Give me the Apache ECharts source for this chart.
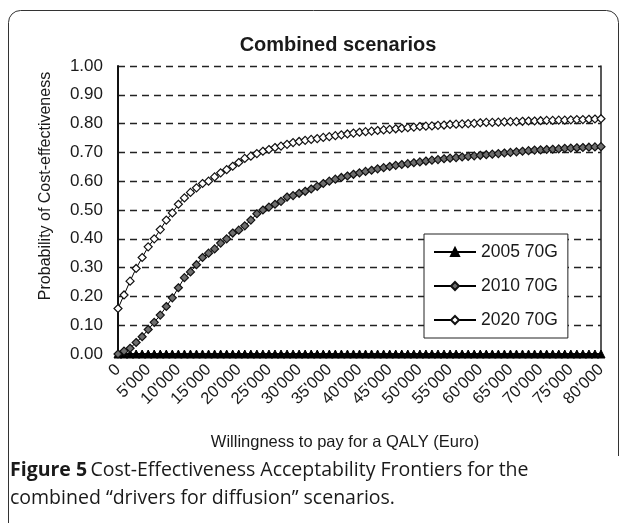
<!DOCTYPE html>
<html>
<head>
<meta charset="utf-8">
<script src="https://cdn.jsdelivr.net/npm/echarts@6/dist/echarts.min.js"></script>
<style>
html,body{margin:0;padding:0;background:#fff;}
#c{width:627px;height:523px;}
</style>
</head>
<body>
<div id="c"></div>
<script>
// Willingness to pay (Euro)
var wtp = [0,1000,2000,3000,4000,5000,6000,7000,8000,9000,
  10000,11000,12000,13000,14000,15000,16000,17000,18000,19000,
  20000,21000,22000,23000,24000,25000,26000,27000,28000,29000,
  30000,31000,32000,33000,34000,35000,36000,37000,38000,39000,
  40000,41000,42000,43000,44000,45000,46000,47000,48000,49000,
  50000,51000,52000,53000,54000,55000,56000,57000,58000,59000,
  60000,61000,62000,63000,64000,65000,66000,67000,68000,69000,
  70000,71000,72000,73000,74000,75000,76000,77000,78000,79000,80000];

var s2005 = [0,0,0,0,0,0,0,0,0,0, 0,0,0,0,0,0,0,0,0,0, 0,0,0,0,0,0,0,0,0,0,
  0,0,0,0,0,0,0,0,0,0, 0,0,0,0,0,0,0,0,0,0, 0,0,0,0,0,0,0,0,0,0,
  0,0,0,0,0,0,0,0,0,0, 0,0,0,0,0,0,0,0,0,0,0];

var s2010 = [0.00,0.01,0.02,0.04,0.06,0.085,0.11,0.135,0.165,0.195,
  0.23,0.265,0.285,0.31,0.335,0.35,0.365,0.385,0.40,0.42,
  0.43,0.445,0.465,0.487,0.50,0.51,0.52,0.53,0.545,0.55,
  0.558,0.565,0.573,0.582,0.592,0.60,0.607,0.613,0.618,0.624,
  0.629,0.634,0.638,0.643,0.647,0.651,0.655,0.658,0.661,0.664,
  0.667,0.670,0.673,0.675,0.678,0.680,0.682,0.684,0.686,0.688,
  0.690,0.692,0.694,0.696,0.698,0.700,0.702,0.704,0.706,0.708,
  0.709,0.710,0.711,0.712,0.714,0.715,0.716,0.717,0.718,0.719,0.720];

var s2020 = [0.158,0.205,0.253,0.297,0.335,0.372,0.40,0.432,0.465,0.49,
  0.52,0.542,0.561,0.577,0.592,0.60,0.615,0.629,0.64,0.652,
  0.665,0.679,0.687,0.696,0.704,0.71,0.717,0.722,0.728,0.734,
  0.738,0.742,0.745,0.748,0.752,0.755,0.758,0.761,0.764,0.767,
  0.770,0.772,0.774,0.776,0.778,0.780,0.782,0.784,0.786,0.788,
  0.790,0.791,0.792,0.794,0.795,0.797,0.798,0.799,0.800,0.801,
  0.803,0.804,0.804,0.805,0.806,0.807,0.807,0.808,0.809,0.809,
  0.810,0.811,0.811,0.812,0.812,0.813,0.814,0.814,0.815,0.816,0.817];

var seriesNames = ['2005 70G','2010 70G','2020 70G'];

function pairs(vals){ return vals.map(function(v,i){ return [wtp[i], v]; }); }

var FONT = '"Liberation Sans", Arial, sans-serif';
var CAP = '"Open Sans", "Noto Sans", sans-serif';
var chart = echarts.init(document.getElementById('c'), null, {renderer:'canvas'});
chart.setOption({
  backgroundColor:'#fff',
  animation:false,
  graphic:[
    {type:'rect', z:-10, shape:{x:8.5, y:10.5, width:610, height:560, r:12},
     style:{fill:'none', stroke:'#333', lineWidth:1}},
    {type:'rect', z:-9, shape:{x:612, y:456, width:15, height:70},
     style:{fill:'#fff', stroke:null}},
    {type:'text', x:338, y:45,
     style:{text:'Combined scenarios', font:'bold 20px "Liberation Sans", Arial', fill:'#1a1a1a', align:'center', verticalAlign:'middle'}},
    {type:'text', x:46, y:186, rotation:Math.PI/2,
     style:{text:'Probability of Cost-effectiveness', font:'16px "Liberation Sans", Arial', fill:'#1a1a1a', align:'center', verticalAlign:'middle'}},
    {type:'text', x:345, y:442,
     style:{text:'Willingness to pay for a QALY (Euro)', font:'16.5px "Liberation Sans", Arial', fill:'#1a1a1a', align:'center', verticalAlign:'middle'}},
    {type:'text', x:10, y:470,
     style:{rich:{b:{fontFamily:CAP, fontWeight:'bold', fontSize:19.5, fill:'#1a1a1a'},
                  r:{fontFamily:CAP, fontSize:19.5, fill:'#1a1a1a'}},
            text:'{b|Figure 5} {r|Cost-Effectiveness Acceptability Frontiers for the}', verticalAlign:'middle'}},
    {type:'text', x:10, y:498,
     style:{text:'combined \u201cdrivers for diffusion\u201d scenarios.', font:'19.5px "Open Sans", "Noto Sans", sans-serif', fill:'#1a1a1a', verticalAlign:'middle'}}
  ],
  legend:{
    data:seriesNames,
    orient:'vertical',
    left:424, top:234,
    padding:[9,10,9,9],
    itemGap:16,
    itemWidth:42, itemHeight:10,
    backgroundColor:'#fff',
    borderColor:'#222', borderWidth:1, borderRadius:0,
    selectedMode:false,
    textStyle:{fontFamily:FONT, fontSize:17.5, color:'#1a1a1a'}
  },
  grid:{left:118, right:26, top:66, bottom:169, containLabel:false},
  xAxis:{
    type:'value', min:0, max:80000, interval:5000,
    axisLine:{show:true, onZero:false, lineStyle:{color:'#111', width:2}},
    axisTick:{show:false},
    splitLine:{show:false},
    axisLabel:{
      rotate:45, margin:13, fontFamily:FONT, fontSize:16.5, color:'#1a1a1a',
      formatter:function(v){ return v===0 ? '0' : (v/1000)+"'000"; }
    }
  },
  yAxis:[{
    type:'value', min:0, max:1, interval:0.1,
    axisLine:{show:true, lineStyle:{color:'#111', width:2}},
    axisTick:{show:false},
    splitLine:{show:true, lineStyle:{color:'#222', width:1.4, type:[7,5]}},
    axisLabel:{margin:15, fontFamily:FONT, fontSize:17, color:'#1a1a1a',
      formatter:function(v){ return v.toFixed(2); }}
  },{
    type:'value', min:0, max:1, interval:0.1, position:'right',
    axisLine:{show:true, lineStyle:{color:'#222', width:1.5}},
    axisTick:{show:false}, axisLabel:{show:false}, splitLine:{show:false}
  }],
  series:[
    {name:seriesNames[0], type:'line', data:pairs(s2005), symbol:'triangle', symbolSize:8,
     lineStyle:{color:'#000', width:1}, itemStyle:{color:'#000', borderColor:'#000', borderWidth:1}, z:3},
    {name:seriesNames[1], type:'line', data:pairs(s2010), symbol:'diamond', symbolSize:8,
     lineStyle:{color:'#000', width:1}, itemStyle:{color:'#6e6e6e', borderColor:'#111', borderWidth:1.2}},
    {name:seriesNames[2], type:'line', data:pairs(s2020), symbol:'diamond', symbolSize:8,
     lineStyle:{color:'#000', width:1}, itemStyle:{color:'#fff', borderColor:'#111', borderWidth:1.2}}
  ]
});
</script>
</body>
</html>
